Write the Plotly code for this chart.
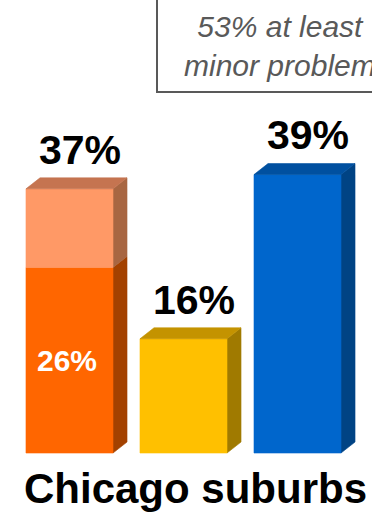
import plotly.graph_objects as go

# Survey shares, Chicago suburbs
categories = ["Major problem", "Minor problem", "Not a problem"]
totals = [37, 16, 39]
stack_lower = [26, None, None]          # "major" part of the first bar
front_colors = ["#FF9966", "#FFC000", "#0066CC"]
top_colors = ["#C57450", "#C49300", "#0050A0"]
side_colors = ["#A86642", "#A07A00", "#004384"]
lower_front = "#FF6600"
lower_side = "#A34100"
total_labels = ["37%", "16%", "39%"]
lower_labels = ["26%", None, None]
group_title = "Chicago suburbs"
callout_text = "53% at least<br>minor problem"

FONT = "Liberation Sans, Arial, sans-serif"
HALF = 0.3816      # half width of a bar front, in category units
DX = 0.123         # depth offset, x (category units)
DY = 1.54          # depth offset, y (percentage points)

fig = go.Figure()


def poly(xs, ys, color):
    fig.add_trace(go.Scatter(
        x=xs + [xs[0]], y=ys + [ys[0]], mode="lines", fill="toself",
        fillcolor=color, line=dict(color=color, width=0.6),
        hoverinfo="skip", showlegend=False))


def prism(c, base, val, front, top, side, with_top=True):
    l, r = c - HALF, c + HALF
    poly([r, r + DX, r + DX, r], [base, base + DY, val + DY, val], side)
    poly([l, r, r, l], [base, base, val, val], front)
    if with_top:
        poly([l, r, r + DX, l + DX], [val, val, val + DY, val + DY], top)


for i, v in enumerate(totals):
    low = stack_lower[i]
    if low is not None:
        prism(i, 0, low, lower_front, top_colors[i], lower_side, with_top=False)
        prism(i, low, v, front_colors[i], top_colors[i], side_colors[i])
    else:
        prism(i, 0, v, front_colors[i], top_colors[i], side_colors[i])

annotations = []
for i, v in enumerate(totals):
    annotations.append(dict(
        x=i + 0.09, y=v + 5.5, xref="x", yref="y", text=total_labels[i],
        showarrow=False, xanchor="center", yanchor="middle",
        font=dict(family=FONT, size=41, color="#000000", weight="bold")))
    if lower_labels[i]:
        annotations.append(dict(
            x=i - 0.02, y=stack_lower[i] / 2, xref="x", yref="y",
            text=lower_labels[i], showarrow=False,
            xanchor="center", yanchor="middle",
            font=dict(family=FONT, size=30, color="#FFFFFF", weight="bold")))

annotations.append(dict(
    x=195 / 372, y=(512 - 488) / 512, xref="paper", yref="paper",
    text=group_title, showarrow=False, xanchor="center", yanchor="middle",
    font=dict(family=FONT, size=42, color="#000000", weight="bold")))

annotations.append(dict(
    x=280 / 372, y=(512 - 45.6) / 512, xref="paper", yref="paper",
    text=callout_text, showarrow=False, xanchor="center", yanchor="middle",
    align="center",
    font=dict(family=FONT, size=30, color="#595959", style="italic")))

shapes = [dict(
    type="rect", xref="paper", yref="paper",
    x0=157 / 372, x1=430 / 372, y0=(512 - 92) / 512, y1=1.05,
    line=dict(color="#595959", width=2), fillcolor="rgba(0,0,0,0)")]

fig.update_layout(
    width=372, height=512,
    margin=dict(l=0, r=0, t=0, b=0, pad=0),
    paper_bgcolor="#FFFFFF", plot_bgcolor="#FFFFFF",
    showlegend=False, hovermode=False,
    xaxis=dict(range=[-0.6096, 2.6535], visible=False, fixedrange=True),
    yaxis=dict(range=[-8.26, 63.45], visible=False, fixedrange=True),
    annotations=annotations, shapes=shapes,
)

fig.write_html("out.html")
